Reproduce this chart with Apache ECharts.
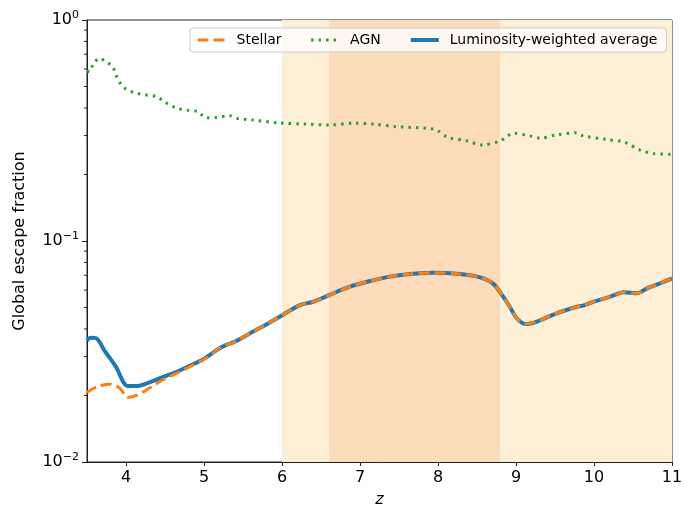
<!DOCTYPE html>
<html>
<head>
<meta charset="utf-8">
<script src="https://cdn.jsdelivr.net/npm/echarts@6/dist/echarts.min.js"></script>
<style>
  html, body { margin: 0; padding: 0; background: #fff; }
  #chart { width: 684px; height: 508px; }
</style>
</head>
<body>
<div id="chart"></div>
<script>
// redshift / escape fraction
var zAgn = [3.5, 3.53, 3.58, 3.66, 3.75, 3.83, 3.87, 3.94, 4.0, 4.1, 4.26, 4.4, 4.5, 4.64, 4.8, 4.92, 5.03, 5.15, 5.33, 5.42, 5.62, 5.97, 6.3, 6.61, 6.93, 7.17, 7.47, 7.85, 7.98, 8.13, 8.37, 8.56, 8.8, 8.97, 9.18, 9.31, 9.52, 9.78, 9.86, 10.16, 10.38, 10.59, 10.76, 11.0];
var fAgn = [0.59, 0.583, 0.63, 0.671, 0.645, 0.615, 0.564, 0.508, 0.487, 0.47, 0.458, 0.449, 0.425, 0.4, 0.39, 0.385, 0.361, 0.362, 0.369, 0.359, 0.353, 0.342, 0.338, 0.335, 0.341, 0.338, 0.329, 0.324, 0.318, 0.294, 0.284, 0.272, 0.284, 0.307, 0.299, 0.292, 0.302, 0.309, 0.299, 0.288, 0.281, 0.258, 0.249, 0.247];

var zLum = [3.5, 3.55, 3.62, 3.72, 3.87, 4.02, 4.15, 4.3, 4.47, 4.65, 4.82, 4.99, 5.2, 5.42, 5.63, 5.84, 6.01, 6.23, 6.4, 6.61, 6.87, 7.13, 7.38, 7.64, 7.94, 8.28, 8.54, 8.71, 8.82, 8.92, 9.01, 9.12, 9.27, 9.52, 9.78, 9.86, 9.99, 10.21, 10.38, 10.55, 10.68, 10.85, 11.0];
var fLum = [0.0355, 0.0365, 0.0363, 0.0321, 0.027, 0.0221, 0.0221, 0.0229, 0.0242, 0.0256, 0.0273, 0.0292, 0.0327, 0.0354, 0.0389, 0.0427, 0.0463, 0.0513, 0.0531, 0.057, 0.0621, 0.0659, 0.069, 0.0709, 0.0719, 0.0709, 0.0685, 0.064, 0.057, 0.0504, 0.0447, 0.0421, 0.0432, 0.0471, 0.0504, 0.051, 0.0531, 0.056, 0.0586, 0.058, 0.061, 0.0644, 0.0678];

var zStellar = [3.5, 3.51, 3.66, 3.79, 3.92, 4.02, 4.15, 4.3, 4.47, 4.65, 4.86, 4.99, 5.2, 5.42, 5.63, 5.84, 6.01, 6.23, 6.4, 6.61, 6.87, 7.13, 7.38, 7.64, 7.94, 8.28, 8.54, 8.71, 8.82, 8.92, 9.01, 9.12, 9.27, 9.52, 9.78, 9.86, 9.99, 10.21, 10.38, 10.55, 10.68, 10.85, 11.0];
var fStellar = [0.0205, 0.0208, 0.0221, 0.0225, 0.0216, 0.0196, 0.0201, 0.0216, 0.0235, 0.0252, 0.0275, 0.029, 0.0327, 0.0354, 0.0389, 0.0427, 0.0463, 0.0513, 0.0531, 0.057, 0.0621, 0.0659, 0.069, 0.0709, 0.0719, 0.0709, 0.0685, 0.064, 0.057, 0.0504, 0.0447, 0.0421, 0.0432, 0.0471, 0.0504, 0.051, 0.0531, 0.056, 0.0586, 0.058, 0.061, 0.0644, 0.0678];

// shaded redshift ranges
var outerBand = [6, 11];
var innerBand = [6.6, 8.8];

var xTicks = [4, 5, 6, 7, 8, 9, 10, 11];
var yTicks = [0.01, 0.1, 1];
var minorVals = [0.02, 0.03, 0.04, 0.05, 0.06, 0.07, 0.08, 0.09, 0.2, 0.3, 0.4, 0.5, 0.6, 0.7, 0.8, 0.9];

function pairs(xs, ys) {
  return xs.map(function (x, i) { return [x, ys[i]]; });
}

var chart = echarts.init(document.getElementById("chart"));
chart.setOption({
  animation: false,
  textStyle: { fontFamily: "DejaVu Sans", color: "#000" },
  grid: {
    left: 87, right: 12, top: 20, bottom: 46,
    outerBoundsMode: "none",
    show: true, borderColor: "#222", borderWidth: 1, backgroundColor: "transparent",
  },
  legend: {
    left: 190, top: 28,
    padding: [5, 9, 5, 6],
    itemGap: 28,
    itemWidth: 28, itemHeight: 14,
    backgroundColor: "rgba(255,255,255,0.8)",
    borderColor: "#ccc", borderWidth: 1, borderRadius: 3,
    itemStyle: { opacity: 0 },
    textStyle: { fontSize: 14, color: "#000", padding: [0, 0, 0, 6] },
    data: [
      { name: "Stellar", lineStyle: { width: 3 } },
      { name: "AGN", lineStyle: { width: 3 } },
      { name: "Luminosity-weighted average", lineStyle: { width: 4 } },
    ],
  },
  xAxis: {
    type: "value",
    min: 3.5, max: 11,
    name: "z",
    nameLocation: "middle",
    nameGap: 30,
    nameTextStyle: { fontSize: 16, fontStyle: "italic", color: "#000" },
    axisLine: { lineStyle: { color: "#222", width: 1 } },
    axisTick: { length: 4, lineStyle: { color: "#222" }, customValues: xTicks },
    axisLabel: { fontSize: 16, color: "#000", margin: 8, customValues: xTicks },
    splitLine: { show: false },
  },
  yAxis: {
    type: "log",
    logBase: 10,
    min: 0.01, max: 1,
    name: "Global escape fraction",
    nameLocation: "middle",
    nameGap: 59,
    nameTextStyle: { fontSize: 16, color: "#000" },
    axisLine: { show: true, lineStyle: { color: "#222", width: 1 } },
    axisTick: { show: true, length: 5, lineStyle: { color: "#222" }, customValues: yTicks },
    axisLabel: {
      margin: 8,
      customValues: yTicks,
      formatter: function (v) {
        var e = Math.round(Math.log10(v));
        return "{b|10}{s|" + (e < 0 ? "\u2212" + (-e) : e) + "}";
      },
      rich: {
        b: { fontSize: 16, color: "#000", fontFamily: "DejaVu Sans" },
        s: { fontSize: 11, color: "#000", fontFamily: "DejaVu Sans", padding: [0, 0, 9, 0] },
      },
    },
    splitLine: { show: false },
  },
  series: [
    {
      name: "bands",
      type: "line",
      data: [],
      silent: true,
      z: 0,
      markArea: {
        silent: true,
        data: [
          [{ xAxis: outerBand[0], itemStyle: { color: "#fdeed6" } }, { xAxis: innerBand[0] }],
          [{ xAxis: innerBand[0], itemStyle: { color: "#fcdbbb" } }, { xAxis: innerBand[1] }],
          [{ xAxis: innerBand[1], itemStyle: { color: "#fdeed6" } }, { xAxis: outerBand[1] }],
        ],
      },
    },
    {
      name: "minorTicks",
      type: "custom",
      silent: true,
      clip: false,
      data: minorVals.map(function (v) { return [3.5, v]; }),
      renderItem: function (params, api) {
        var p = api.coord([api.value(0), api.value(1)]);
        return {
          type: "line",
          shape: { x1: p[0] - 3, y1: p[1], x2: p[0], y2: p[1] },
          style: { stroke: "#222", lineWidth: 1 },
        };
      },
      z: 5,
    },
    {
      name: "AGN",
      type: "line",
      data: pairs(zAgn, fAgn),
      showSymbol: false,
      symbol: "none",
      smooth: 0.3,
      z: 3,
      lineStyle: { color: "#2ca02c", width: 3, type: [2.5, 5] },
      itemStyle: { color: "#2ca02c" },
    },
    {
      name: "Luminosity-weighted average",
      type: "line",
      data: pairs(zLum, fLum),
      showSymbol: false,
      symbol: "none",
      smooth: 0.3,
      z: 3,
      lineStyle: { color: "#1f77b4", width: 4 },
      itemStyle: { color: "#1f77b4" },
    },
    {
      name: "Stellar",
      type: "line",
      data: pairs(zStellar, fStellar),
      showSymbol: false,
      symbol: "none",
      smooth: 0.3,
      z: 4,
      lineStyle: { color: "#ff7f0e", width: 3, type: [11, 5] },
      itemStyle: { color: "#ff7f0e" },
    },
  ],
});
</script>
</body>
</html>
